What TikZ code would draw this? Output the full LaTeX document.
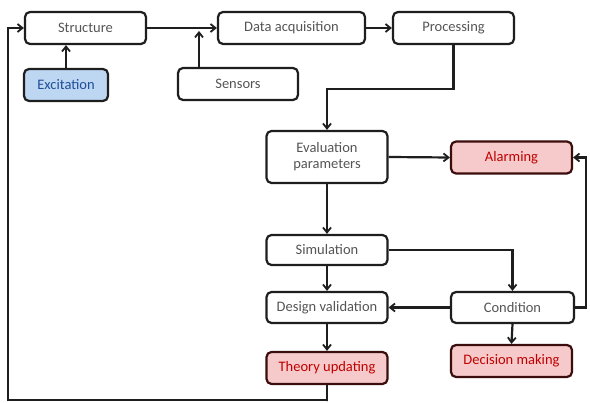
\documentclass[tikz,border=0pt]{standalone}
\usepackage{fontspec}
\setmainfont{Carlito}
\usetikzlibrary{arrows.meta,calc}
\definecolor{boxtext}{HTML}{555555}
\definecolor{bluefill}{HTML}{BDD7F2}
\definecolor{bluetext}{HTML}{1F4E9A}
\definecolor{redfill}{HTML}{F6CACA}
\definecolor{redtext}{HTML}{C00000}
\definecolor{linecol}{HTML}{1E1E1E}
\tikzset{
  box/.style={draw=linecol, line width=2.2pt, rounded corners=5pt, fill=white,
    text=boxtext, font=\fontsize{14.5}{16}\selectfont, align=center,
    minimum width=121pt, minimum height=32pt, inner sep=2pt},
  bluebox/.style={box, fill=bluefill, text=bluetext, minimum width=84pt},
  redbox/.style={box, fill=redfill, text=redtext, draw=linecol!70!red!60!black},
  conn/.style={draw=linecol, line width=2.2pt, -{Straight Barb[length=5pt,width=8pt,line width=1.8pt]}},
}
\begin{document}
\begin{tikzpicture}[x=1pt,y=-1pt]
\useasboundingbox (0,0) rectangle (590,403);
\node[box] (struct) at (85.5,28) {Structure};
\node[bluebox] (exc) at (66,85) {Excitation};
\node[box, minimum width=147pt] (daq) at (291.5,28) {Data acquisition};
\node[box, minimum width=120pt] (sens) at (238,84) {Sensors};
\node[box] (proc) at (453.5,28) {Processing};
\node[box, minimum height=52pt] (eval) at (327,157) {Evaluation\\parameters};
\node[redbox] (alarm) at (511.5,157.5) {Alarming};
\node[box, minimum height=30pt] (sim) at (327,250) {Simulation};
\node[box, minimum height=31pt] (dv) at (327,307.5) {Design validation};
\node[box, minimum width=123pt, minimum height=31pt] (cond) at (512.5,307.5) {Condition};
\node[redbox] (theory) at (327,368) {Theory updating};
\node[redbox] (dec) at (511.5,361) {Decision making};

\coordinate (sb) at (199,0 |- sens.north);
\coordinate (sj) at (199,31);
\coordinate (pr1) at ($(proc.south)+(0,44)$);
\coordinate (pr2) at (pr1 -| eval.north);
\coordinate (cr) at ($(cond.east)+(11,0)$);
\coordinate (ar) at (cr |- alarm.east);
\coordinate (sc) at (sim.east -| cond.north);
\coordinate (tb) at ($(theory.south)+(0,16)$);
\coordinate (lb) at (8,400);
\coordinate (lt) at (8,28);

\draw[conn] (struct.east) -- (daq.west);
\draw[conn] (exc.north) -- (exc.north |- struct.south);
\draw[conn] (sb) -- (sj);
\draw[conn] (daq.east) -- (proc.west);
\draw[conn] (proc.south) -- (pr1) -- (pr2) -- (eval.north);
\draw[conn] (eval.east) -- (alarm.west);
\draw[conn] (eval.south) -- (sim.north);
\draw[conn] (sim.east) -- (sc) -- (cond.north);
\draw[conn] (sim.south) -- (dv.north);
\draw[conn] (cond.west) -- (dv.east);
\draw[conn] (cond.east) -- (cr) -- (ar) -- (alarm.east);
\draw[conn] (cond.south) -- (dec.north);
\draw[conn] (dv.south) -- (theory.north);
\draw[conn] (theory.south) -- (tb) -- (tb |- lb) -- (lb) -- (lt) -- (struct.west);
\end{tikzpicture}
\end{document}
